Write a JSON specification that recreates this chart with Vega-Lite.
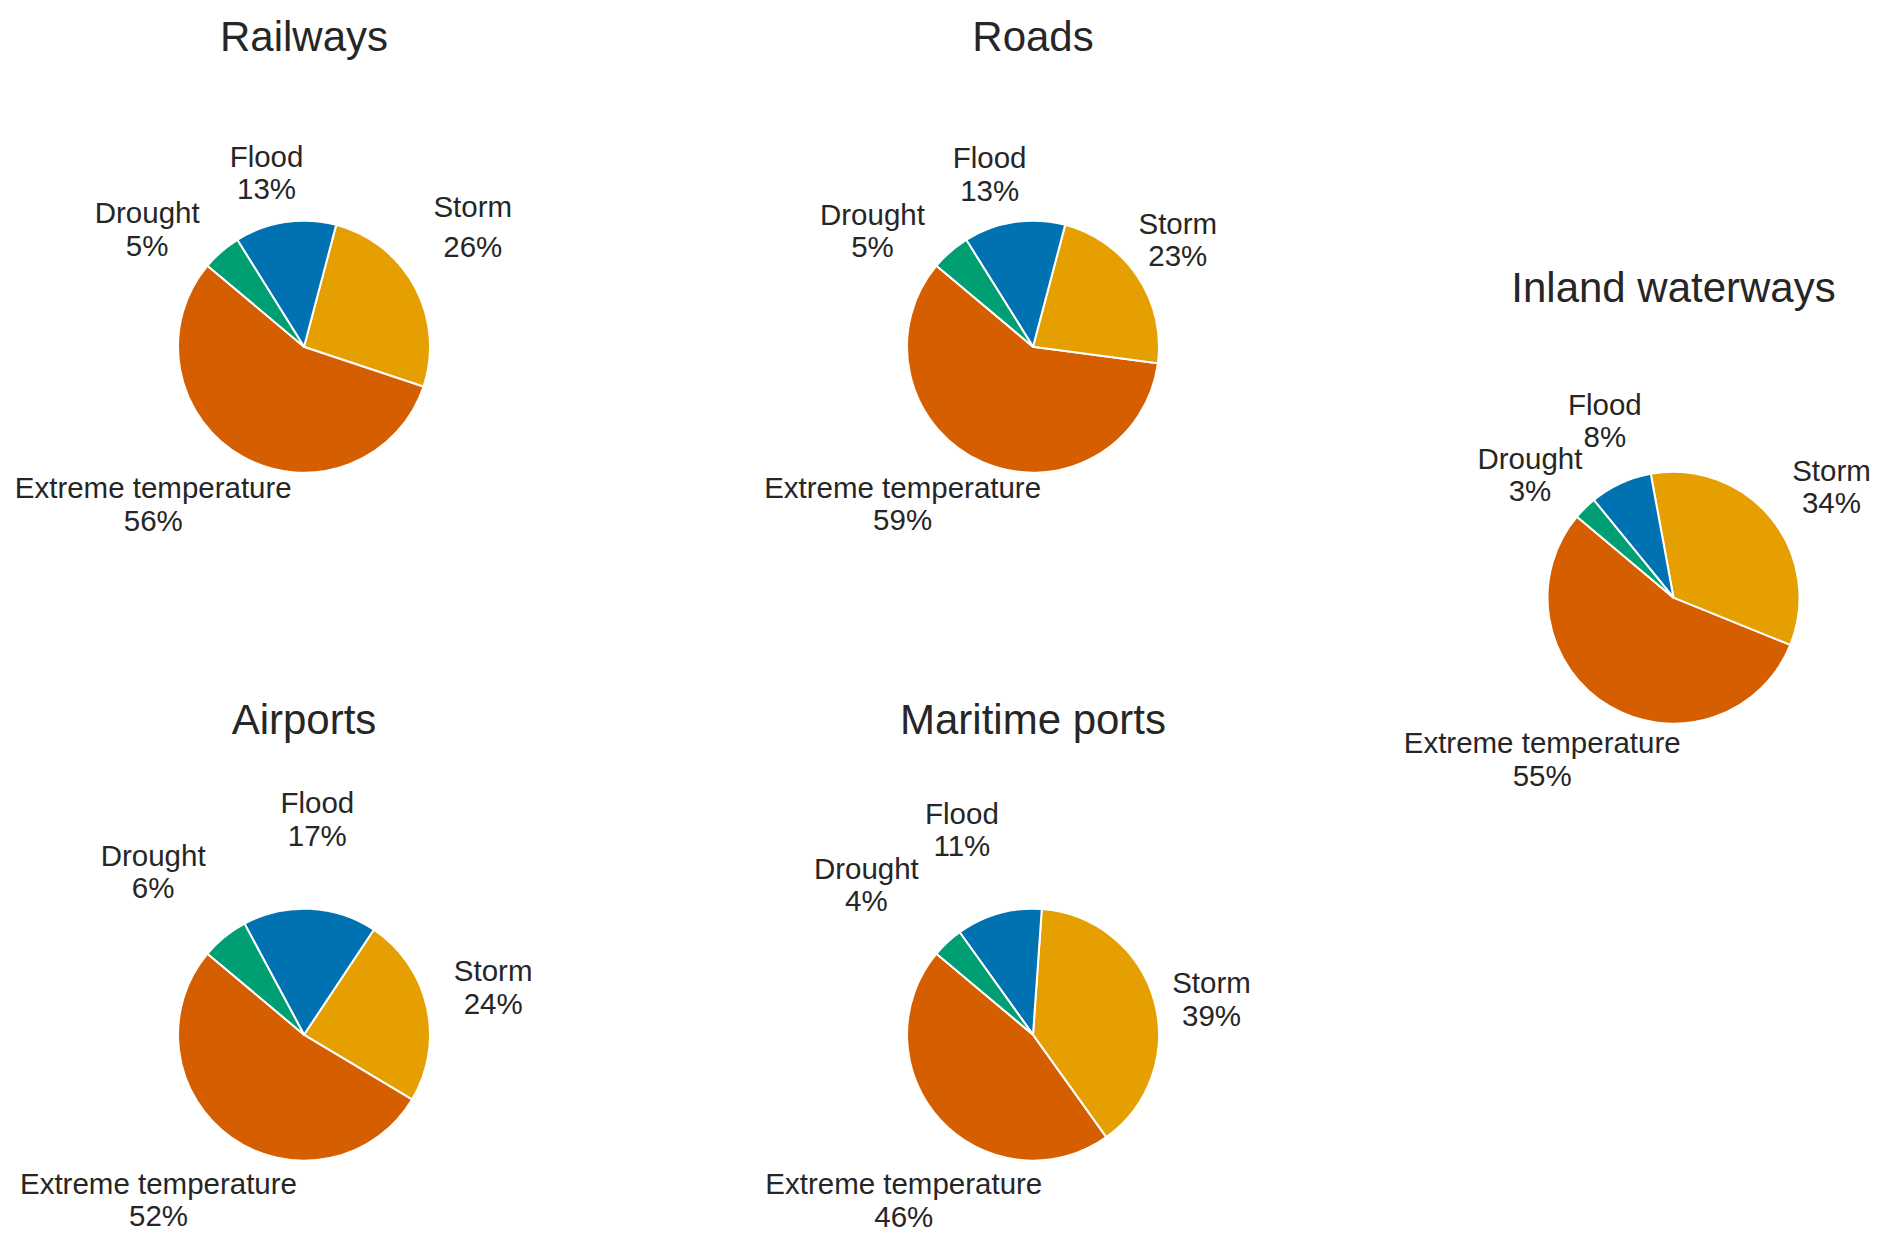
{
  "$schema": "https://vega.github.io/schema/vega-lite/v6.json",
  "padding": {"left": -56.5, "top": 16.7, "right": -53.5, "bottom": -39},
  "background": "#ffffff",
  "datasets": {
    "shares": [
      {"panel": "Railways", "hazard": "Extreme temperature", "share": 56},
      {"panel": "Railways", "hazard": "Storm", "share": 26},
      {"panel": "Railways", "hazard": "Flood", "share": 13},
      {"panel": "Railways", "hazard": "Drought", "share": 5},
      {"panel": "Roads", "hazard": "Extreme temperature", "share": 59},
      {"panel": "Roads", "hazard": "Storm", "share": 23},
      {"panel": "Roads", "hazard": "Flood", "share": 13},
      {"panel": "Roads", "hazard": "Drought", "share": 5},
      {"panel": "Inland waterways", "hazard": "Extreme temperature", "share": 55},
      {"panel": "Inland waterways", "hazard": "Storm", "share": 34},
      {"panel": "Inland waterways", "hazard": "Flood", "share": 8},
      {"panel": "Inland waterways", "hazard": "Drought", "share": 3},
      {"panel": "Airports", "hazard": "Extreme temperature", "share": 52},
      {"panel": "Airports", "hazard": "Storm", "share": 24},
      {"panel": "Airports", "hazard": "Flood", "share": 17},
      {"panel": "Airports", "hazard": "Drought", "share": 6},
      {"panel": "Maritime ports", "hazard": "Extreme temperature", "share": 46},
      {"panel": "Maritime ports", "hazard": "Storm", "share": 39},
      {"panel": "Maritime ports", "hazard": "Flood", "share": 11},
      {"panel": "Maritime ports", "hazard": "Drought", "share": 4}
    ]
  },
  "data": {"name": "shares"},
  "spacing": 56.5,
  "bounds": "full",
  "resolve": {"scale": {"theta": "independent"}},
  "hconcat": [
    {
      "vconcat": [
        {
          "title": "Railways",
          "width": 721, "height": 500,
          "transform": [
            {"filter": "datum.panel === 'Railways'"},
            {"calculate": "indexof(['Drought','Flood','Storm','Extreme temperature'], datum.hazard)", "as": "ord"},
            {"stack": "share", "groupby": [], "sort": [{"field": "ord", "order": "ascending"}], "offset": "normalize", "as": ["t0", "t1"]},
            {"calculate": "(datum.t0 + datum.t1) / 2", "as": "tm"},
            {"calculate": "datum.hazard + '\\n' + datum.share + '%'", "as": "label"}
          ],
          "layer": [
            {"mark": {"type": "arc", "outerRadius": 126, "stroke": "#ffffff", "strokeWidth": 2, "strokeJoin": "round"},
             "encoding": {
               "theta": {"field": "t0", "type": "quantitative", "scale": {"domain": [0, 1], "range": [-0.872665, 5.410521]}},
               "theta2": {"field": "t1"},
               "color": {"field": "hazard", "type": "nominal", "legend": null, "scale": {"domain": ["Drought", "Flood", "Storm", "Extreme temperature"], "range": ["#009E73", "#0072B2", "#E69F00", "#D55E00"]}}
             }},
            {"transform": [{"filter": "datum.hazard === 'Flood'"}],
             "mark": {"type": "text", "radius": 178, "thetaOffset": -0.062, "dy": -15, "align": "center", "baseline": "middle", "font": "Liberation Sans", "fontSize": 29.5, "lineHeight": 32.5, "lineBreak": "\n", "color": "#262626"},
             "encoding": {"theta": {"field": "tm", "type": "quantitative", "stack": null, "scale": {"domain": [0, 1], "range": [-0.872665, 5.410521]}}, "text": {"field": "label"}}},
            {"transform": [{"filter": "datum.hazard === 'Storm'"}],
             "mark": {"type": "text", "radius": 207, "thetaOffset": -0.122, "dy": -18.75, "align": "center", "baseline": "middle", "font": "Liberation Sans", "fontSize": 29.5, "lineHeight": 40, "lineBreak": "\n", "color": "#262626"},
             "encoding": {"theta": {"field": "tm", "type": "quantitative", "stack": null, "scale": {"domain": [0, 1], "range": [-0.872665, 5.410521]}}, "text": {"field": "label"}}},
            {"transform": [{"filter": "datum.hazard === 'Drought'"}],
             "mark": {"type": "text", "radius": 196, "thetaOffset": -0.212, "dy": -15, "align": "center", "baseline": "middle", "font": "Liberation Sans", "fontSize": 29.5, "lineHeight": 32.5, "lineBreak": "\n", "color": "#262626"},
             "encoding": {"theta": {"field": "tm", "type": "quantitative", "stack": null, "scale": {"domain": [0, 1], "range": [-0.872665, 5.410521]}}, "text": {"field": "label"}}},
            {"transform": [{"filter": "datum.hazard === 'Extreme temperature'"}],
             "mark": {"type": "text", "radius": 218, "thetaOffset": 0.254, "dy": -15, "align": "center", "baseline": "middle", "font": "Liberation Sans", "fontSize": 29.5, "lineHeight": 32.5, "lineBreak": "\n", "color": "#262626"},
             "encoding": {"theta": {"field": "tm", "type": "quantitative", "stack": null, "scale": {"domain": [0, 1], "range": [-0.872665, 5.410521]}}, "text": {"field": "label"}}}
          ]
        },
        {
          "title": {"text": "Airports", "offset": 41.5},
          "width": 721, "height": 500,
          "transform": [
            {"filter": "datum.panel === 'Airports'"},
            {"calculate": "indexof(['Drought','Flood','Storm','Extreme temperature'], datum.hazard)", "as": "ord"},
            {"stack": "share", "groupby": [], "sort": [{"field": "ord", "order": "ascending"}], "offset": "normalize", "as": ["t0", "t1"]},
            {"calculate": "(datum.t0 + datum.t1) / 2", "as": "tm"},
            {"calculate": "datum.hazard + '\\n' + datum.share + '%'", "as": "label"}
          ],
          "layer": [
            {"mark": {"type": "arc", "outerRadius": 126, "stroke": "#ffffff", "strokeWidth": 2, "strokeJoin": "round"},
             "encoding": {
               "theta": {"field": "t0", "type": "quantitative", "scale": {"domain": [0, 1], "range": [-0.872665, 5.410521]}},
               "theta2": {"field": "t1"},
               "color": {"field": "hazard", "type": "nominal", "legend": null, "scale": {"domain": ["Drought", "Flood", "Storm", "Extreme temperature"], "range": ["#009E73", "#0072B2", "#E69F00", "#D55E00"]}}
             }},
            {"transform": [{"filter": "datum.hazard === 'Flood'"}],
             "mark": {"type": "text", "radius": 216, "thetaOffset": 0.014, "dy": -15, "align": "center", "baseline": "middle", "font": "Liberation Sans", "fontSize": 29.5, "lineHeight": 32.5, "lineBreak": "\n", "color": "#262626"},
             "encoding": {"theta": {"field": "tm", "type": "quantitative", "stack": null, "scale": {"domain": [0, 1], "range": [-0.872665, 5.410521]}}, "text": {"field": "label"}}},
            {"transform": [{"filter": "datum.hazard === 'Storm'"}],
             "mark": {"type": "text", "radius": 195, "thetaOffset": -0.024, "dy": -15, "align": "center", "baseline": "middle", "font": "Liberation Sans", "fontSize": 29.5, "lineHeight": 32.5, "lineBreak": "\n", "color": "#262626"},
             "encoding": {"theta": {"field": "tm", "type": "quantitative", "stack": null, "scale": {"domain": [0, 1], "range": [-0.872665, 5.410521]}}, "text": {"field": "label"}}},
            {"transform": [{"filter": "datum.hazard === 'Drought'"}],
             "mark": {"type": "text", "radius": 222, "thetaOffset": -0.065, "dy": -15, "align": "center", "baseline": "middle", "font": "Liberation Sans", "fontSize": 29.5, "lineHeight": 32.5, "lineBreak": "\n", "color": "#262626"},
             "encoding": {"theta": {"field": "tm", "type": "quantitative", "stack": null, "scale": {"domain": [0, 1], "range": [-0.872665, 5.410521]}}, "text": {"field": "label"}}},
            {"transform": [{"filter": "datum.hazard === 'Extreme temperature'"}],
             "mark": {"type": "text", "radius": 220, "thetaOffset": 0.104, "dy": -15, "align": "center", "baseline": "middle", "font": "Liberation Sans", "fontSize": 29.5, "lineHeight": 32.5, "lineBreak": "\n", "color": "#262626"},
             "encoding": {"theta": {"field": "tm", "type": "quantitative", "stack": null, "scale": {"domain": [0, 1], "range": [-0.872665, 5.410521]}}, "text": {"field": "label"}}}
          ]
        }
      ],
      "spacing": 188,
      "bounds": "flush",
      "resolve": {"scale": {"theta": "independent"}}
    },
    {
      "vconcat": [
        {
          "title": "Roads",
          "width": 624, "height": 500,
          "transform": [
            {"filter": "datum.panel === 'Roads'"},
            {"calculate": "indexof(['Drought','Flood','Storm','Extreme temperature'], datum.hazard)", "as": "ord"},
            {"stack": "share", "groupby": [], "sort": [{"field": "ord", "order": "ascending"}], "offset": "normalize", "as": ["t0", "t1"]},
            {"calculate": "(datum.t0 + datum.t1) / 2", "as": "tm"},
            {"calculate": "datum.hazard + '\\n' + datum.share + '%'", "as": "label"}
          ],
          "layer": [
            {"mark": {"type": "arc", "outerRadius": 126, "stroke": "#ffffff", "strokeWidth": 2, "strokeJoin": "round"},
             "encoding": {
               "theta": {"field": "t0", "type": "quantitative", "scale": {"domain": [0, 1], "range": [-0.872665, 5.410521]}},
               "theta2": {"field": "t1"},
               "color": {"field": "hazard", "type": "nominal", "legend": null, "scale": {"domain": ["Drought", "Flood", "Storm", "Extreme temperature"], "range": ["#009E73", "#0072B2", "#E69F00", "#D55E00"]}}
             }},
            {"transform": [{"filter": "datum.hazard === 'Flood'"}],
             "mark": {"type": "text", "radius": 178, "thetaOffset": -0.096, "dy": -15, "align": "center", "baseline": "middle", "font": "Liberation Sans", "fontSize": 29.5, "lineHeight": 32.5, "lineBreak": "\n", "color": "#262626"},
             "encoding": {"theta": {"field": "tm", "type": "quantitative", "stack": null, "scale": {"domain": [0, 1], "range": [-0.872665, 5.410521]}}, "text": {"field": "label"}}},
            {"transform": [{"filter": "datum.hazard === 'Storm'"}],
             "mark": {"type": "text", "radius": 180, "thetaOffset": -0.046, "dy": -15, "align": "center", "baseline": "middle", "font": "Liberation Sans", "fontSize": 29.5, "lineHeight": 32.5, "lineBreak": "\n", "color": "#262626"},
             "encoding": {"theta": {"field": "tm", "type": "quantitative", "stack": null, "scale": {"domain": [0, 1], "range": [-0.872665, 5.410521]}}, "text": {"field": "label"}}},
            {"transform": [{"filter": "datum.hazard === 'Drought'"}],
             "mark": {"type": "text", "radius": 198, "thetaOffset": -0.230, "dy": -15, "align": "center", "baseline": "middle", "font": "Liberation Sans", "fontSize": 29.5, "lineHeight": 32.5, "lineBreak": "\n", "color": "#262626"},
             "encoding": {"theta": {"field": "tm", "type": "quantitative", "stack": null, "scale": {"domain": [0, 1], "range": [-0.872665, 5.410521]}}, "text": {"field": "label"}}},
            {"transform": [{"filter": "datum.hazard === 'Extreme temperature'"}],
             "mark": {"type": "text", "radius": 204, "thetaOffset": 0.278, "dy": -15, "align": "center", "baseline": "middle", "font": "Liberation Sans", "fontSize": 29.5, "lineHeight": 32.5, "lineBreak": "\n", "color": "#262626"},
             "encoding": {"theta": {"field": "tm", "type": "quantitative", "stack": null, "scale": {"domain": [0, 1], "range": [-0.872665, 5.410521]}}, "text": {"field": "label"}}}
          ]
        },
        {
          "title": {"text": "Maritime ports", "offset": 41.5},
          "width": 624, "height": 500,
          "transform": [
            {"filter": "datum.panel === 'Maritime ports'"},
            {"calculate": "indexof(['Drought','Flood','Storm','Extreme temperature'], datum.hazard)", "as": "ord"},
            {"stack": "share", "groupby": [], "sort": [{"field": "ord", "order": "ascending"}], "offset": "normalize", "as": ["t0", "t1"]},
            {"calculate": "(datum.t0 + datum.t1) / 2", "as": "tm"},
            {"calculate": "datum.hazard + '\\n' + datum.share + '%'", "as": "label"}
          ],
          "layer": [
            {"mark": {"type": "arc", "outerRadius": 126, "stroke": "#ffffff", "strokeWidth": 2, "strokeJoin": "round"},
             "encoding": {
               "theta": {"field": "t0", "type": "quantitative", "scale": {"domain": [0, 1], "range": [-0.872665, 5.410521]}},
               "theta2": {"field": "t1"},
               "color": {"field": "hazard", "type": "nominal", "legend": null, "scale": {"domain": ["Drought", "Flood", "Storm", "Extreme temperature"], "range": ["#009E73", "#0072B2", "#E69F00", "#D55E00"]}}
             }},
            {"transform": [{"filter": "datum.hazard === 'Flood'"}],
             "mark": {"type": "text", "radius": 217, "thetaOffset": -0.058, "dy": -15, "align": "center", "baseline": "middle", "font": "Liberation Sans", "fontSize": 29.5, "lineHeight": 32.5, "lineBreak": "\n", "color": "#262626"},
             "encoding": {"theta": {"field": "tm", "type": "quantitative", "stack": null, "scale": {"domain": [0, 1], "range": [-0.872665, 5.410521]}}, "text": {"field": "label"}}},
            {"transform": [{"filter": "datum.hazard === 'Storm'"}],
             "mark": {"type": "text", "radius": 182, "thetaOffset": 0.079, "dy": -15, "align": "center", "baseline": "middle", "font": "Liberation Sans", "fontSize": 29.5, "lineHeight": 32.5, "lineBreak": "\n", "color": "#262626"},
             "encoding": {"theta": {"field": "tm", "type": "quantitative", "stack": null, "scale": {"domain": [0, 1], "range": [-0.872665, 5.410521]}}, "text": {"field": "label"}}},
            {"transform": [{"filter": "datum.hazard === 'Drought'"}],
             "mark": {"type": "text", "radius": 224, "thetaOffset": -0.092, "dy": -15, "align": "center", "baseline": "middle", "font": "Liberation Sans", "fontSize": 29.5, "lineHeight": 32.5, "lineBreak": "\n", "color": "#262626"},
             "encoding": {"theta": {"field": "tm", "type": "quantitative", "stack": null, "scale": {"domain": [0, 1], "range": [-0.872665, 5.410521]}}, "text": {"field": "label"}}},
            {"transform": [{"filter": "datum.hazard === 'Extreme temperature'"}],
             "mark": {"type": "text", "radius": 210, "thetaOffset": -0.161, "dy": -15, "align": "center", "baseline": "middle", "font": "Liberation Sans", "fontSize": 29.5, "lineHeight": 32.5, "lineBreak": "\n", "color": "#262626"},
             "encoding": {"theta": {"field": "tm", "type": "quantitative", "stack": null, "scale": {"domain": [0, 1], "range": [-0.872665, 5.410521]}}, "text": {"field": "label"}}}
          ]
        }
      ],
      "spacing": 188,
      "bounds": "flush",
      "resolve": {"scale": {"theta": "independent"}}
    },
    {
      "vconcat": [
        {
          "title": " ",
          "width": 544, "height": 63,
          "data": {"values": [{"blank": ""}]},
          "mark": {"type": "text"},
          "encoding": {"text": {"field": "blank"}}
        },
        {
          "title": "Inland waterways",
          "width": 544, "height": 500,
          "transform": [
            {"filter": "datum.panel === 'Inland waterways'"},
            {"calculate": "indexof(['Drought','Flood','Storm','Extreme temperature'], datum.hazard)", "as": "ord"},
            {"stack": "share", "groupby": [], "sort": [{"field": "ord", "order": "ascending"}], "offset": "normalize", "as": ["t0", "t1"]},
            {"calculate": "(datum.t0 + datum.t1) / 2", "as": "tm"},
            {"calculate": "datum.hazard + '\\n' + datum.share + '%'", "as": "label"}
          ],
          "layer": [
            {"mark": {"type": "arc", "outerRadius": 126, "stroke": "#ffffff", "strokeWidth": 2, "strokeJoin": "round"},
             "encoding": {
               "theta": {"field": "t0", "type": "quantitative", "scale": {"domain": [0, 1], "range": [-0.872665, 5.410521]}},
               "theta2": {"field": "t1"},
               "color": {"field": "hazard", "type": "nominal", "legend": null, "scale": {"domain": ["Drought", "Flood", "Storm", "Extreme temperature"], "range": ["#009E73", "#0072B2", "#E69F00", "#D55E00"]}}
             }},
            {"transform": [{"filter": "datum.hazard === 'Flood'"}],
             "mark": {"type": "text", "radius": 190, "thetaOffset": 0.063, "dy": -15, "align": "center", "baseline": "middle", "font": "Liberation Sans", "fontSize": 29.5, "lineHeight": 32.5, "lineBreak": "\n", "color": "#262626"},
             "encoding": {"theta": {"field": "tm", "type": "quantitative", "stack": null, "scale": {"domain": [0, 1], "range": [-0.872665, 5.410521]}}, "text": {"field": "label"}}},
            {"transform": [{"filter": "datum.hazard === 'Storm'"}],
             "mark": {"type": "text", "radius": 193, "thetaOffset": 0.072, "dy": -15, "align": "center", "baseline": "middle", "font": "Liberation Sans", "fontSize": 29.5, "lineHeight": 32.5, "lineBreak": "\n", "color": "#262626"},
             "encoding": {"theta": {"field": "tm", "type": "quantitative", "stack": null, "scale": {"domain": [0, 1], "range": [-0.872665, 5.410521]}}, "text": {"field": "label"}}},
            {"transform": [{"filter": "datum.hazard === 'Drought'"}],
             "mark": {"type": "text", "radius": 189, "thetaOffset": -0.084, "dy": -15, "align": "center", "baseline": "middle", "font": "Liberation Sans", "fontSize": 29.5, "lineHeight": 32.5, "lineBreak": "\n", "color": "#262626"},
             "encoding": {"theta": {"field": "tm", "type": "quantitative", "stack": null, "scale": {"domain": [0, 1], "range": [-0.872665, 5.410521]}}, "text": {"field": "label"}}},
            {"transform": [{"filter": "datum.hazard === 'Extreme temperature'"}],
             "mark": {"type": "text", "radius": 208, "thetaOffset": 0.142, "dy": -15, "align": "center", "baseline": "middle", "font": "Liberation Sans", "fontSize": 29.5, "lineHeight": 32.5, "lineBreak": "\n", "color": "#262626"},
             "encoding": {"theta": {"field": "tm", "type": "quantitative", "stack": null, "scale": {"domain": [0, 1], "range": [-0.872665, 5.410521]}}, "text": {"field": "label"}}}
          ]
        }
      ],
      "spacing": 188,
      "bounds": "flush",
      "resolve": {"scale": {"theta": "independent"}}
    }
  ],
  "config": {
    "view": {"stroke": null},
    "title": {"font": "Liberation Sans", "fontSize": 42, "fontWeight": "normal", "color": "#262626", "anchor": "middle", "frame": "group", "baseline": "alphabetic", "offset": 36.5}
  }
}
